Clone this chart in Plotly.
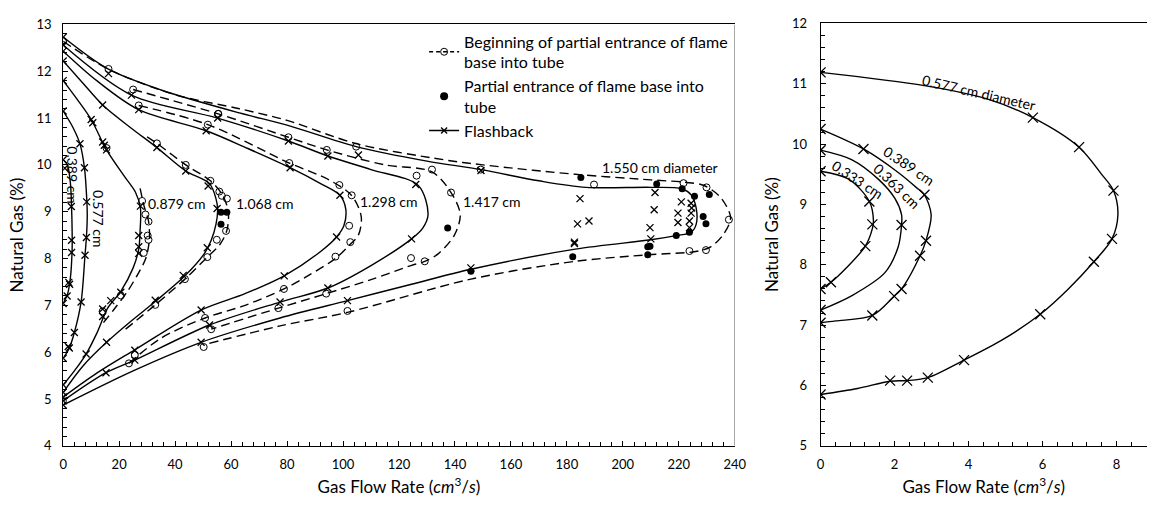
import plotly.graph_objects as go

# ---------------- LEFT CHART DATA (gas flow rate cm3/s, natural gas %) ----------------
# Flashback curves (solid lines) - smooth curve points
fb0389_lx = [0, 1.5, 2.6, 3.0, 3.2, 3.2, 2.6, 1.6, 0]
fb0389_ly = [10.11, 10.0, 9.6, 9.1, 8.6, 8.2, 7.6, 7.25, 7.04]
fb0389_mx = [0, 0.6, 2.9, 3.0, 3.0, 2.0, 2.3, 1.4, 0]
fb0389_my = [10.11, 9.93, 9.11, 8.39, 8.13, 7.49, 7.45, 7.2, 7.04]

fb0577_lx = [0, 3.5, 6.0, 7.6, 8.4, 8.6, 8.3, 7.8, 6.4, 4.0, 2.2, 0]
fb0577_ly = [11.15, 10.8, 10.45, 9.94, 9.3, 8.9, 8.45, 8.07, 7.07, 6.42, 6.09, 5.87]
fb0577_mx = [0, 6.0, 7.6, 8.4, 8.3, 7.8, 6.4, 4.0, 2.2, 1.8, 0]
fb0577_my = [11.15, 10.45, 9.94, 9.21, 8.45, 8.07, 7.07, 6.42, 6.09, 6.12, 5.87]

fb0879_lx = [0, 5, 10, 15.5, 21.7, 25.8, 27.6, 27.5, 27.0, 25.0, 20.6, 16, 12, 8.2, 4, 0]
fb0879_ly = [11.80, 11.4, 10.97, 10.32, 9.77, 9.42, 9.08, 8.6, 8.2, 7.8, 7.3, 6.95, 6.4, 5.96, 5.6, 5.30]
fb0879_mx = [0, 10, 10.6, 14.1, 14.7, 15.5, 27.6, 27.0, 27.0, 27.0, 20.6, 17, 14.1, 14.1, 8.2, 0]
fb0879_my = [11.80, 10.97, 10.90, 10.49, 10.42, 10.32, 9.12, 8.49, 8.25, 8.11, 7.28, 7.10, 6.92, 6.76, 5.96, 5.30]

fb1068_lx = [0, 7, 14.1, 24, 33.5, 43.8, 52.3, 54.6, 55.2, 54.6, 52.9, 50.5, 43.5, 32.9, 24, 15.5, 7, 0]
fb1068_ly = [12.22, 11.75, 11.28, 10.8, 10.37, 9.87, 9.6, 9.28, 9.04, 8.73, 8.39, 8.11, 7.63, 7.08, 6.65, 6.21, 5.7, 5.14]
fb1068_mx = [0, 14.1, 33.5, 43.8, 51.8, 55.0, 51.5, 42.9, 32.9, 15.5, 0]
fb1068_my = [12.22, 11.28, 10.37, 9.87, 9.55, 9.07, 8.23, 7.64, 7.11, 6.21, 5.14]

fb1298_lx = [0, 12, 27, 51.1, 66, 81.1, 92, 98.9, 101, 100.3, 97.7, 92, 79, 65, 49.3, 25.6, 12, 0]
fb1298_ly = [12.43, 11.8, 11.18, 10.73, 10.35, 9.94, 9.6, 9.35, 9.05, 8.7, 8.46, 8.15, 7.63, 7.25, 6.90, 6.05, 5.55, 5.04]
fb1298_mx = [0, 27, 51.1, 81.1, 98.9, 97.7, 79, 49.3, 25.6, 0]
fb1298_my = [12.43, 11.18, 10.73, 9.94, 9.35, 8.46, 7.63, 6.90, 6.04, 5.04]

fb1417_lx = [0, 24.4, 55.2, 80.5, 94.6, 110, 126.9, 130.4, 128.5, 124.5, 110, 94.6, 77.5, 52.3, 25.6, 15.3, 0]
fb1417_ly = [12.56, 11.49, 11.0, 10.51, 10.19, 9.9, 9.56, 8.94, 8.65, 8.42, 7.85, 7.37, 7.07, 6.58, 5.83, 5.56, 4.96]
fb1417_mx = [0, 16.2, 24.4, 55.2, 80.5, 94.6, 126, 124.5, 94.6, 77.5, 52.3, 25.6, 15.3, 0]
fb1417_my = [12.56, 11.95, 11.49, 11.0, 10.51, 10.19, 9.58, 8.42, 7.37, 7.07, 6.58, 5.83, 5.56, 4.96]

fb1550_lx = [0, 16, 35, 63, 80, 104.7, 130, 149.3, 170, 186.8, 210, 221, 224.4, 226.2, 226.2, 224.4, 219, 210,
             183, 145.7, 124.5, 101.6, 77.5, 49.3, 25, 0]
fb1550_ly = [12.73, 12.05, 11.6, 11.11, 10.85, 10.39, 10.08, 9.90, 9.66, 9.52, 9.52, 9.49, 9.36, 9.08, 8.73, 8.56,
             8.49, 8.40, 8.2, 7.77, 7.45, 7.10, 6.73, 6.21, 5.6, 4.87]
fb1550_mx = [0, 105.5, 149.3, 184.7, 183.8, 187.9, 182.7, 211.5, 211.2, 209.7, 210, 220.9, 224.4, 219.7, 224.4,
             219.7, 223.8, 223.8, 224.6, 182.7, 145.7, 101.6, 49.3, 0]
fb1550_my = [12.73, 10.21, 9.88, 9.28, 8.74, 8.80, 8.35, 9.41, 9.04, 8.66, 8.42, 9.21, 9.18, 8.97, 8.97,
             8.77, 8.80, 8.66, 9.08, 8.32, 7.80, 7.10, 6.21, 4.87]

# Beginning of partial entrance (dashed lines, open circles)
bp0879_lx = [27.5, 29.0, 30.5, 30.8, 29.5, 27.0, 23.0, 18.0, 14.0]
bp0879_ly = [9.5, 9.1, 8.8, 8.4, 8.0, 7.7, 7.3, 6.9, 6.6]
bp0879_mx = [15.5, 28.2, 29.4, 30.5, 30.2, 30.5, 28.8, 20.6, 14.1]
bp0879_my = [10.36, 9.23, 8.94, 8.79, 8.49, 8.40, 8.12, 7.21, 6.87]

bp1068_lx = [30, 33.5, 43.8, 52.6, 57, 59, 58.5, 56, 51.5, 43.5, 32.9, 22.3]
bp1068_ly = [10.6, 10.46, 10.0, 9.66, 9.35, 9.0, 8.6, 8.3, 8.03, 7.56, 7.01, 6.49]
bp1068_mx = [33.5, 43.8, 52.6, 55.8, 56.7, 58.5, 58.2, 54.9, 51.5, 43.5, 32.9]
bp1068_my = [10.46, 10.0, 9.66, 9.43, 9.34, 9.28, 8.59, 8.40, 8.03, 7.56, 7.01]

bp1298_lx = [27, 51.7, 80.8, 95, 103, 106.5, 105.5, 102.5, 97.3, 88, 78.9, 65, 50.7, 35, 23.5]
bp1298_ly = [11.27, 10.86, 10.04, 9.68, 9.35, 8.9, 8.5, 8.3, 8.0, 7.65, 7.35, 7.0, 6.73, 6.3, 5.76]
bp1298_mx = [27, 51.7, 80.8, 98.7, 103.1, 102.2, 102.6, 97.3, 78.9, 50.7, 25.6, 23.5]
bp1298_my = [11.27, 10.86, 10.04, 9.57, 9.35, 8.70, 8.35, 8.04, 7.35, 6.73, 5.94, 5.76]

bp1417_lx = [25, 55.4, 80.5, 94.2, 115, 131.8, 138.6, 141.9, 139.8, 134, 129.2, 124.3, 110, 94, 76.9, 52.9]
bp1417_ly = [11.61, 11.09, 10.59, 10.32, 10.0, 9.85, 9.41, 8.94, 8.5, 8.1, 7.94, 7.85, 7.55, 7.25, 6.94, 6.49]
bp1417_mx = [25, 55.4, 80.5, 94.2, 126.3, 131.8, 138.6, 129.2, 124.3, 94, 76.9, 52.9]
bp1417_my = [11.61, 11.09, 10.59, 10.32, 9.77, 9.90, 9.41, 7.94, 8.01, 7.25, 6.94, 6.49]

bp1550_lx = [0, 16, 40, 63, 80, 105, 136, 150, 183, 210, 222, 229, 235, 238.5, 236, 231.4, 226, 209, 183,
             145.7, 101.6, 77.5, 51.7]
bp1550_ly = [12.64, 12.05, 11.5, 11.2, 10.95, 10.45, 10.11, 10.0, 9.80, 9.68, 9.63, 9.56, 9.3, 8.87, 8.52,
             8.25, 8.15, 8.08, 7.94, 7.56, 6.85, 6.56, 6.18]
bp1550_mx = [0, 16.2, 55.4, 104.7, 149.2, 189.7, 221.7, 229.9, 237.9, 229.7, 223.8, 101.6, 50.2]
bp1550_my = [12.64, 12.05, 11.09, 10.39, 9.90, 9.58, 9.61, 9.52, 8.83, 8.18, 8.16, 6.88, 6.11]

# Partial entrance (filled circles)
pe_x = [56.4, 58.5, 56.4, 137.4, 145.7, 185, 212.1, 221.2, 225.6, 230.9, 228.7, 229.7, 223.8, 219.1,
        209.7, 208.9, 208.9, 182.1]
pe_y = [8.99, 8.99, 8.73, 8.65, 7.73, 9.73, 9.59, 9.49, 9.33, 9.37, 8.90, 8.74, 8.56, 8.49,
        8.26, 8.25, 8.08, 8.04]

# Curve labels (left)
lab_l_text = ["0.879 cm", "1.068 cm", "1.298 cm", "1.417 cm", "1.550 cm diameter"]
lab_l_x = [40.5, 72, 116.3, 153.3, 213.2]
lab_l_y = [9.18, 9.18, 9.21, 9.21, 9.94]
lab_rot_text = ["0.389 cm", "0.577 cm"]
lab_rot_x = [3.3, 12.9]
lab_rot_y = [9.77, 8.84]

# ---------------- RIGHT CHART DATA ----------------
r0577_lx = [0, 2.81, 4.5, 5.74, 6.99, 7.6, 7.92, 8.04, 7.88, 7.39, 6.7, 5.94, 4.9, 3.88, 2.90, 2.34, 1.88, 1.0, 0]
r0577_ly = [11.19, 10.97, 10.75, 10.44, 9.95, 9.5, 9.23, 8.83, 8.43, 8.05, 7.6, 7.18, 6.75, 6.42, 6.13, 6.08, 6.07, 5.95, 5.85]
r0577_mx = [0, 5.74, 6.99, 7.92, 7.88, 7.39, 5.94, 3.88, 2.90, 2.34, 1.88, 0]
r0577_my = [11.19, 10.44, 9.95, 9.23, 8.43, 8.05, 7.18, 6.42, 6.13, 6.08, 6.08, 5.85]

r0389_lx = [0, 1.16, 2.10, 2.63, 2.81, 2.99, 2.85, 2.69, 2.19, 1.99, 1.40, 0.41, 0]
r0389_ly = [10.25, 9.92, 9.53, 9.26, 9.16, 8.83, 8.4, 8.15, 7.60, 7.48, 7.16, 7.07, 7.04]
r0389_mx = [0, 1.16, 2.81, 2.85, 2.69, 2.19, 1.99, 1.40, 0]
r0389_my = [10.25, 9.92, 9.16, 8.40, 8.15, 7.60, 7.48, 7.16, 7.04]

r0363_lx = [0, 0.85, 1.56, 2.01, 2.19, 2.19, 2.10, 1.74, 0.85, 0]
r0363_ly = [9.90, 9.74, 9.42, 9.10, 8.83, 8.66, 8.3, 7.87, 7.49, 7.25]
r0363_mx = [0, 2.19, 0]
r0363_my = [9.90, 8.66, 7.25]

r0333_lx = [0, 0.76, 1.32, 1.43, 1.40, 1.21, 0.7, 0.28, 0]
r0333_ly = [9.55, 9.42, 9.05, 8.73, 8.6, 8.31, 7.95, 7.71, 7.60]
r0333_mx = [0, 1.32, 1.40, 1.21, 0.28, 0]
r0333_my = [9.55, 9.05, 8.67, 8.31, 7.71, 7.60]

lab_r_text = ["0.577 cm diameter", "0.389 cm", "0.363 cm", "0.333 cm"]
lab_r_x = [4.28, 2.38, 2.08, 1.0]
lab_r_y = [10.86, 9.64, 9.30, 9.42]
lab_r_ang = [13, 34, 44, 33]

# ---------------- FIGURE ----------------
FONT = "Lato"
fig = go.Figure()


def add_line(xs, ys, dash, xa="x", ya="y"):
    fig.add_trace(go.Scatter(x=xs, y=ys, mode="lines", xaxis=xa, yaxis=ya, showlegend=False,
                             hoverinfo="skip",
                             line=dict(color="black", width=1.4, dash=dash, shape="spline", smoothing=0.9)))


def add_marks(xs, ys, kind, xa="x", ya="y", size=None):
    if kind == "x":
        m = dict(symbol="x-thin-open", size=size or 7, color="black", line=dict(color="black", width=1.3))
    elif kind == "o":
        m = dict(symbol="circle-open", size=size or 7, color="black", line=dict(color="black", width=1))
    else:
        m = dict(symbol="circle", size=size or 7, color="black")
    fig.add_trace(go.Scatter(x=xs, y=ys, mode="markers", xaxis=xa, yaxis=ya, showlegend=False,
                             hoverinfo="skip", marker=m))


DASH = "9px,5px"
# left chart: flashback
for lx, ly, mx, my in [(fb0389_lx, fb0389_ly, fb0389_mx, fb0389_my),
                       (fb0577_lx, fb0577_ly, fb0577_mx, fb0577_my),
                       (fb0879_lx, fb0879_ly, fb0879_mx, fb0879_my),
                       (fb1068_lx, fb1068_ly, fb1068_mx, fb1068_my),
                       (fb1298_lx, fb1298_ly, fb1298_mx, fb1298_my),
                       (fb1417_lx, fb1417_ly, fb1417_mx, fb1417_my),
                       (fb1550_lx, fb1550_ly, fb1550_mx, fb1550_my)]:
    add_line(lx, ly, "solid")
    add_marks(mx, my, "x")
# left chart: beginning of partial entrance
for lx, ly, mx, my in [(bp0879_lx, bp0879_ly, bp0879_mx, bp0879_my),
                       (bp1068_lx, bp1068_ly, bp1068_mx, bp1068_my),
                       (bp1298_lx, bp1298_ly, bp1298_mx, bp1298_my),
                       (bp1417_lx, bp1417_ly, bp1417_mx, bp1417_my),
                       (bp1550_lx, bp1550_ly, bp1550_mx, bp1550_my)]:
    add_line(lx, ly, DASH)
    add_marks(mx, my, "o")
add_marks(pe_x, pe_y, "f")

# right chart
for lx, ly, mx, my in [(r0577_lx, r0577_ly, r0577_mx, r0577_my),
                       (r0389_lx, r0389_ly, r0389_mx, r0389_my),
                       (r0363_lx, r0363_ly, r0363_mx, r0363_my),
                       (r0333_lx, r0333_ly, r0333_mx, r0333_my)]:
    add_line(lx, ly, "solid", "x2", "y2")
    add_marks(mx, my, "x", "x2", "y2", size=10)

# legend-only traces
fig.add_trace(go.Scatter(x=[None], y=[None], mode="lines+markers", name="Beginning of partial entrance of flame<br>base into tube",
                         line=dict(color="black", width=1.4, dash="4px,3px"),
                         marker=dict(symbol="circle-open", size=7, color="black", line=dict(width=1))))
fig.add_trace(go.Scatter(x=[None], y=[None], mode="markers", name="Partial entrance of flame base into<br>tube",
                         marker=dict(symbol="circle", size=8, color="black")))
fig.add_trace(go.Scatter(x=[None], y=[None], mode="lines+markers", name="Flashback",
                         line=dict(color="black", width=1.4),
                         marker=dict(symbol="x-thin-open", size=6, line=dict(color="black", width=1.3))))

ann = []
for t, x, y in zip(lab_l_text, lab_l_x, lab_l_y):
    ann.append(dict(text=t, x=x, y=y, xref="x", yref="y", showarrow=False, font=dict(size=14, family=FONT, color="black")))
for t, x, y in zip(lab_rot_text, lab_rot_x, lab_rot_y):
    ann.append(dict(text=t, x=x, y=y, xref="x", yref="y", showarrow=False, textangle=90,
                    font=dict(size=14, family=FONT, color="black")))
for t, x, y, a in zip(lab_r_text, lab_r_x, lab_r_y, lab_r_ang):
    ann.append(dict(text=t, x=x, y=y, xref="x2", yref="y2", showarrow=False, textangle=a,
                    font=dict(size=14, family=FONT, color="black")))

W, H = 1159, 508
axis_common = dict(showgrid=False, zeroline=False, showline=True, linecolor="black", linewidth=1,
                   ticks="inside", ticklen=5, tickcolor="black", tickfont=dict(size=13, family=FONT, color="black"))
TITLE_X = "Gas Flow Rate (<i>cm</i><sup>3</sup>/<i>s</i>)"
fig.update_layout(
    width=W, height=H, margin=dict(l=0, r=0, t=0, b=0),
    paper_bgcolor="white", plot_bgcolor="white",
    font=dict(family=FONT, color="black"),
    xaxis=dict(domain=[60 / W, 741 / W], range=[0, 240], dtick=20, mirror=True,
               minor=dict(dtick=4, ticks="inside", ticklen=4, tickcolor="black"),
               title=dict(text=TITLE_X, font=dict(size=17, family=FONT), standoff=9),
               ticklabelstandoff=7, **axis_common),
    yaxis=dict(domain=[1 - 452 / H, 1 - 17 / H], range=[4, 13], dtick=1,
               minor=dict(dtick=0.2, ticks="inside", ticklen=4, tickcolor="black"),
               title=dict(text="Natural Gas (%)", font=dict(size=17, family=FONT), standoff=8),
               ticklabelstandoff=8, **axis_common),
    xaxis2=dict(domain=[828 / W, 1.0], range=[0, (1159 - 828) / 37.5], dtick=2, mirror=True, anchor="y2",
                minor=dict(dtick=0.4, ticks="inside", ticklen=4, tickcolor="black"),
                title=dict(text=TITLE_X, font=dict(size=17, family=FONT), standoff=9),
                ticklabelstandoff=7, **axis_common),
    yaxis2=dict(domain=[1 - 452 / H, 1 - 16 / H], range=[5, 12], dtick=1, anchor="x2",
                minor=dict(dtick=0.2, ticks="inside", ticklen=4, tickcolor="black"),
                title=dict(text="Natural Gas (%)", font=dict(size=17, family=FONT), standoff=8),
                ticklabelstandoff=10, **axis_common),
    legend=dict(x=426 / W, y=1 - 17 / H, xanchor="left", yanchor="top", bgcolor="rgba(0,0,0,0)",
                font=dict(size=16, family=FONT, color="black"), tracegroupgap=2, itemwidth=30),
    annotations=ann,
    shapes=[dict(type="line", xref="x", yref="y", x0=240, x1=240, y0=4, y1=13,
                 line=dict(color="#8a8a8a", width=1.5))],
)

fig.write_html("out.html")
